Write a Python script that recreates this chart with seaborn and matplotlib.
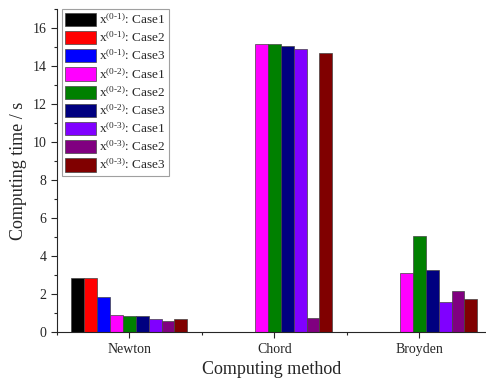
import matplotlib
matplotlib.use("Agg")
import matplotlib.pyplot as plt
import seaborn as sns
import pandas as pd
from matplotlib.ticker import MultipleLocator

# ---- data ----
methods = ["Newton", "Chord", "Broyden"]
series = ["x$^{(0\u20101)}$: Case1", "x$^{(0\u20101)}$: Case2", "x$^{(0\u20101)}$: Case3",
          "x$^{(0\u20102)}$: Case1", "x$^{(0\u20102)}$: Case2", "x$^{(0\u20102)}$: Case3",
          "x$^{(0\u20103)}$: Case1", "x$^{(0\u20103)}$: Case2", "x$^{(0\u20103)}$: Case3"]
newton = [2.83, 2.83, 1.86, 0.89, 0.84, 0.84, 0.67, 0.58, 0.67]
chord = [0.0, 0.0, 0.0, 15.14, 15.14, 15.07, 14.9, 0.75, 14.67]
broyden = [0.0, 0.0, 0.0, 3.09, 5.07, 3.28, 1.6, 2.17, 1.72]
colors = ["#000000", "#ff0000", "#0000ff", "#ff00ff", "#008000",
          "#000080", "#8000ff", "#800080", "#800000"]

rows = []
for m, vals in zip(methods, [newton, chord, broyden]):
    for s, v in zip(series, vals):
        rows.append({"method": m, "series": s, "time": v})
df = pd.DataFrame(rows)

sns.set_style("ticks")
plt.rcParams["font.family"] = ["Liberation Serif", "DejaVu Serif"]
plt.rcParams["mathtext.fontset"] = "custom"
plt.rcParams["mathtext.rm"] = "Liberation Serif"
plt.rcParams["mathtext.it"] = "Liberation Serif"

fig = plt.figure(figsize=(4.86, 3.8), dpi=100)
ax = fig.add_axes([0.117, 0.126, 0.883, 0.85])

sns.barplot(data=df, x="method", y="time", hue="series", hue_order=series,
            palette=colors, width=0.8, ax=ax, edgecolor="#444444", linewidth=0.5,
            saturation=1, errorbar=None)

ax.set_xlim(-0.5, 2.46)
ax.set_ylim(0, 17)
ax.yaxis.set_major_locator(MultipleLocator(2))
ax.yaxis.set_minor_locator(MultipleLocator(1))
ax.xaxis.set_minor_locator(MultipleLocator(0.5))
ax.tick_params(axis="both", which="major", direction="out", length=4, width=0.8, labelsize=10)
ax.tick_params(axis="both", which="minor", direction="out", length=2.5, width=0.8)
ax.set_xlabel("Computing method", fontsize=13)
ax.set_ylabel("Computing time / s", fontsize=13)
sns.despine(ax=ax)

leg = ax.legend(loc="upper left", bbox_to_anchor=(0.012, 1.0), fontsize=9.5, frameon=True,
                fancybox=False, edgecolor="#888888", handlelength=2.3, handleheight=1.15,
                handletextpad=0.25, labelspacing=0.28, borderpad=0.25, borderaxespad=0.0)
leg.get_frame().set_linewidth(0.8)

fig.savefig("out.png", dpi=100)
